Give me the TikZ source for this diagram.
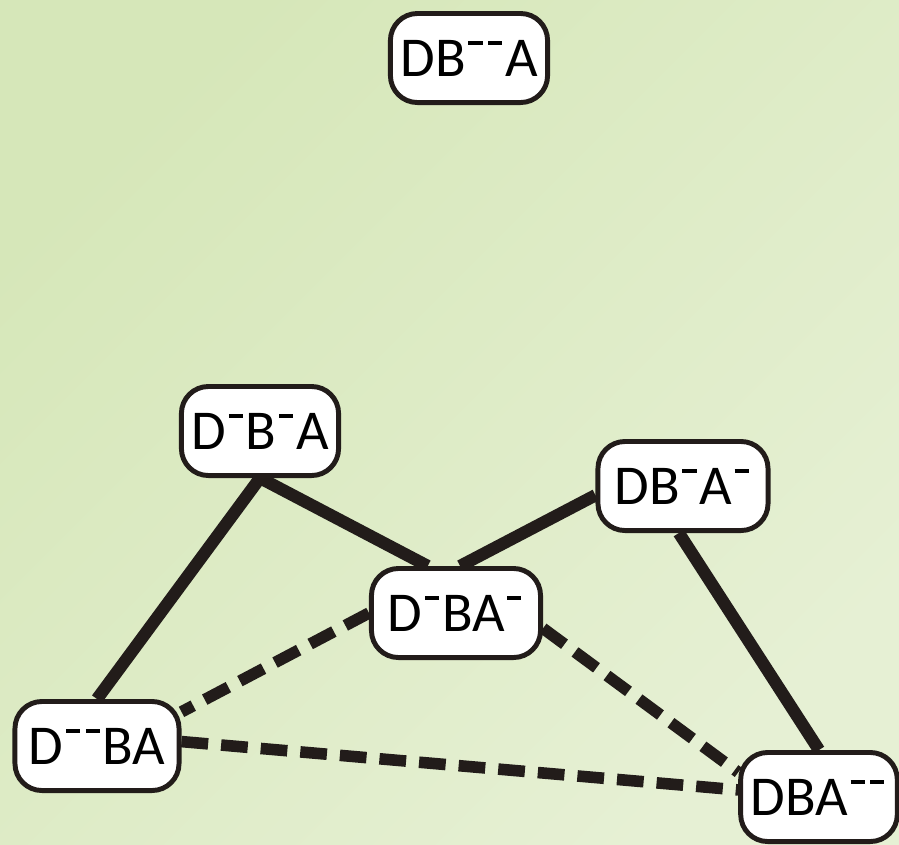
\documentclass[tikz,border=0pt]{standalone}
\usepackage{fontspec}
\setmainfont{Carlito}
\usetikzlibrary{positioning,backgrounds}
\definecolor{ink}{HTML}{221C1A}
\definecolor{leafA}{HTML}{D6E7B9}
\definecolor{leafB}{HTML}{E6F0D4}
% raised bar marking a missing charge
\newcommand{\mn}{\kern0.05em\rule[0.55em]{0.25em}{0.075em}\kern0.05em}

\begin{document}
\begin{tikzpicture}[x=0.01cm,y=-0.01cm,
  state/.style={draw=ink,line width=1.4pt,fill=white,rounded corners=0.27cm,
    minimum height=0.89cm,minimum width=#1,inner xsep=0.1cm,
    font=\fontsize{16}{18}\selectfont},
  state/.default=1.5cm,
  link/.style={ink,line width=3.5pt},
  weak/.style={link,line width=3.3pt,dash pattern=on 7.6pt off 3.7pt}]
\useasboundingbox (0,0) rectangle (899,844);
% states
\node[state=1.54cm] (DBmmA) at (469,58) {DB\mn\mn A};
\node[state=1.56cm] (DmBmA) at (260,431) {D\mn B\mn A};
\node[state=1.70cm] (DBmAm) at (683,486) {DB\mn A\mn};
\node[state=1.69cm] (DmBAm) at (456,613) {D\mn BA\mn};
\node[state=1.64cm] (DmmBA) at (97,746) {D\mn\mn BA};
\node[state=1.51cm] (DBAmm) at (819,797) {DBA\mn\mn};
\begin{scope}[on background layer]
\shade[top color=leafA,bottom color=leafB,shading angle=45] (0,0) rectangle (899,844);
% solid links
\draw[link] (DmBmA.south) -- (DmmBA.north);
\draw[link] (DmBmA.south) -- (DmBAm.121);
\draw[link] (DmBAm.85) -- (DBmAm.186);
\draw[link] (DBmAm.-95) -- (DBAmm.north);
% dashed links
\draw[weak] (DmBAm.west) -- (DmmBA.22);
\draw[weak] (DmBAm.-10) -- (DBAmm.163);
\draw[weak] (DmmBA.3) -- (DBAmm.175);
\end{scope}
\end{tikzpicture}
\end{document}
